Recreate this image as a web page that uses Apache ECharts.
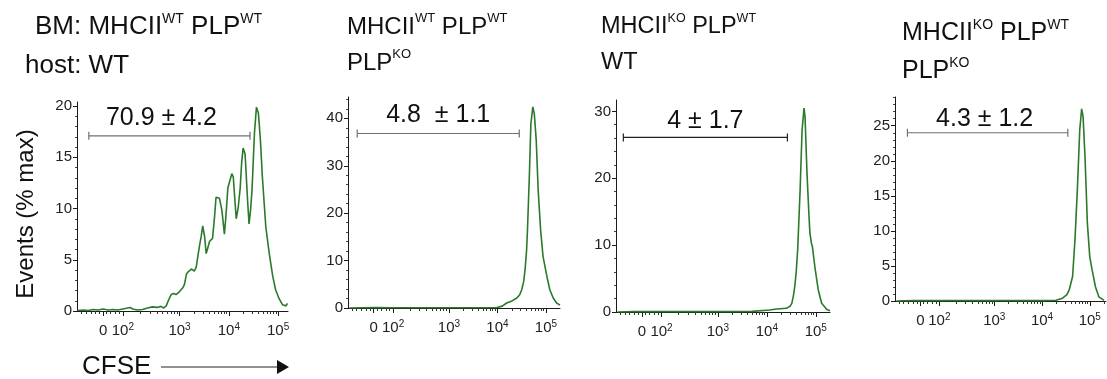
<!DOCTYPE html>
<html>
<head>
<meta charset="utf-8">
<script src="https://cdn.jsdelivr.net/npm/echarts@6/dist/echarts.min.js"></script>
<style>html,body{margin:0;padding:0;background:#fff}#c{width:1107px;height:379px}</style>
</head>
<body>
<div id="c"></div>
<script>
// ---------------- DATA ----------------
// x values are in display units of the biexponential CFSE axis (10^3 -> 3, 10^4 -> 4, 10^5 -> 5)
const xTickValues = [1.45, 1.85, 3, 4, 5];
const xTickLabels = ['0', '10^2', '10^3', '10^4', '10^5'];

const panelTitles = [
  ['BM: MHCII{s|WT} PLP{s|WT}', 'host: WT'],
  ['MHCII{s|WT} PLP{s|WT}', 'PLP{s|KO}'],
  ['MHCII{s|KO} PLP{s|WT}', 'WT'],
  ['MHCII{s|KO} PLP{s|WT}', 'PLP{s|KO}']
];

const p1YTicks = [0, 5, 10, 15, 20];
const p2YTicks = [0, 10, 20, 30, 40];
const p3YTicks = [0, 10, 20, 30];
const p4YTicks = [0, 5, 10, 15, 20, 25];

const p1Cfse = [0.93,1.05,1.15,1.25,1.35,1.45,1.55,1.65,1.75,1.85,1.95,2.0,2.05,2.15,2.25,2.35,2.45,2.55,2.62,2.68,2.73,2.78,2.83,2.88,2.93,3.0,3.03,3.07,3.10,3.14,3.17,3.20,3.24,3.27,3.30,3.34,3.37,3.41,3.44,3.47,3.51,3.54,3.57,3.61,3.64,3.67,3.71,3.74,3.78,3.81,3.86,3.91,3.94,3.98,4.02,4.06,4.09,4.12,4.15,4.19,4.23,4.26,4.29,4.33,4.38,4.41,4.44,4.47,4.52,4.56,4.60,4.64,4.68,4.75,4.82,4.89,4.95,5.02,5.09,5.16,5.19];
const p1Events = [0.05,0.1,0.05,0.15,0.1,0.2,0.1,0.15,0.1,0.2,0.3,0.35,0.2,0.1,0.15,0.3,0.4,0.35,0.45,0.3,0.5,1.1,1.6,1.7,1.6,1.9,2.0,2.3,2.6,3.6,3.8,3.8,4.1,4.0,3.9,4.3,5.3,6.5,7.3,8.3,7.2,5.6,6.1,6.8,6.9,7.1,9.2,11.1,11.2,11.0,9.8,7.5,9.2,12.0,12.1,13.4,13.1,11.0,9.0,10.1,12.0,14.5,15.9,15.3,10.8,8.5,9.8,11.8,17.4,19.9,19.3,16.7,13.1,8.2,5.6,3.4,2.05,1.2,0.6,0.5,0.75];

const p2Cfse = [0.95,1.2,1.5,1.8,2.2,2.6,3.0,3.4,3.8,3.99,4.1,4.19,4.30,4.40,4.46,4.50,4.54,4.57,4.60,4.62,4.66,4.69,4.73,4.76,4.80,4.84,4.89,4.94,5.02,5.08,5.15,5.22,5.29];
const p2Events = [0,0.05,0.1,0.05,0.05,0.05,0.05,0.05,0.05,0.1,0.4,1.05,1.5,2.1,2.8,3.85,5.5,8.1,12,16.5,28.4,38.9,42.4,41.0,35.4,24.9,16.5,10.9,6.65,3.85,2.1,1.05,0.6];

const p3Cfse = [0.95,1.3,1.7,2.1,2.5,2.9,3.3,3.7,4.06,4.2,4.40,4.48,4.51,4.54,4.57,4.60,4.63,4.68,4.72,4.76,4.78,4.82,4.86,4.88,4.91,4.93,4.98,5.05,5.12,5.22,5.29];
const p3Events = [0,0.05,0.05,0.05,0.05,0.05,0.05,0.1,0.3,0.45,0.55,0.9,1.3,2.3,3.8,6,9.3,18.3,27.2,30.5,29.2,20.8,14.5,11.8,10.3,9.8,6.8,3.3,1.3,0.4,0.2];

const p4Cfse = [0.95,1.3,1.7,2.1,2.5,2.9,3.3,3.7,4.1,4.29,4.43,4.52,4.57,4.64,4.69,4.74,4.79,4.83,4.86,4.90,4.95,5.00,5.05,5.12,5.19,5.30];
const p4Events = [0,0.05,0.05,0.05,0.05,0.05,0.05,0.05,0.05,0.1,0.4,0.9,1.6,3.5,8.7,15.9,24.4,27.4,26.3,20.6,11.1,6.3,4.4,2.0,0.6,0.1];

// gates: [start, end, level, label]
const gate1 = [1.16, 4.43, 17.1, '70.9 ± 4.2'];
const gate2 = [1.11, 4.45, 36.8, '4.8  ± 1.1'];
const gate3 = [1.07, 4.42, 26.1, '4 ± 1.7'];
const gate4 = [1.18, 4.54, 24.0, '4.3 ± 1.2'];

// ---------------- LAYOUT / STYLE ----------------
const FONT = 'Liberation Sans, Arial, Helvetica, sans-serif';
const GREEN = '#2b7a2b';
const AXIS = '#1a1a1a';

const panels = [
  {left: 77,  top: 102, width: 211, height: 209, xMax: 5.20, yMax: 20.4, yInt: 5,  yTicks: p1YTicks, x: p1Cfse, y: p1Events, gate: gate1, gateColor: '#707070', dx: -8, dy: -18, titleLeft: [35, 25],  titleBase: [36, 75], titleSize: 26, supSize: 14},
  {left: 348, top: 97,  width: 212, height: 211, xMax: 5.29, yMax: 44.5, yInt: 10, yTicks: p2YTicks, x: p2Cfse, y: p2Events, gate: gate2, gateColor: '#707070', dx: 0,  dy: -18, titleLeft: [347, 347], titleBase: [36, 72], titleSize: 24, supSize: 13},
  {left: 616, top: 100, width: 214, height: 212, xMax: 5.29, yMax: 31.7, yInt: 10, yTicks: p3YTicks, x: p3Cfse, y: p3Events, gate: gate3, gateColor: '#222222', dx: 0,  dy: -16, titleLeft: [601, 601], titleBase: [36, 72], titleSize: 23.5, supSize: 12.5},
  {left: 895, top: 97,  width: 211, height: 204, xMax: 5.34, yMax: 29.1, yInt: 5,  yTicks: p4YTicks, x: p4Cfse, y: p4Events, gate: gate4, gateColor: '#707070', dx: -3, dy: -14, titleLeft: [902, 902], titleBase: [42, 80], titleSize: 25, supSize: 14}
];
const X_MIN = 0.92;

function minorXTicks(xMax) {
  const v = [1.0, 1.1, 1.2, 1.3, 1.38, 1.52, 1.6, 1.7, 1.78];
  for (let k = 2; k <= 9; k++) v.push(1.85 + Math.log10(k) * 1.15);
  for (let n = 3; n <= 5; n++) for (let k = 2; k <= 9; k++) v.push(n + Math.log10(k));
  return v.filter(t => t > X_MIN && t < xMax);
}
function minorYTicks(p) {
  const v = [];
  const step = p.yInt / 5;
  for (let t = step; t < p.yMax; t += step) {
    const r = Math.round(t * 1000) / 1000;
    if (Math.abs(r / p.yInt - Math.round(r / p.yInt)) > 1e-6) v.push(r);
  }
  return v;
}
function xLabelRich(label) {
  const m = label.split('^');
  return m.length > 1 ? '{b|' + m[0] + '}{s|' + m[1] + '}' : '{b|' + m[0] + '}';
}

const grid = [], xAxis = [], yAxis = [], series = [], title = [];

panels.forEach((p, i) => {
  grid.push({left: p.left, top: p.top, width: p.width, height: p.height, containLabel: false, outerBoundsMode: 'none'});
  xAxis.push({
    type: 'value', gridIndex: i, min: X_MIN, max: p.xMax, position: 'bottom',
    axisLine: {show: true, onZero: false, lineStyle: {color: AXIS, width: 1}},
    axisTick: {show: true, length: 5, customValues: xTickValues, lineStyle: {color: AXIS}},
    axisLabel: {
      show: true, margin: 11, customValues: xTickValues, color: '#222',
      formatter: (val) => {
        const k = xTickValues.findIndex(v => Math.abs(v - val) < 1e-6);
        return k >= 0 ? xLabelRich(xTickLabels[k]) : '';
      },
      rich: {
        b: {fontFamily: FONT, fontSize: 15, lineHeight: 17, color: '#222'},
        s: {fontFamily: FONT, fontSize: 10, lineHeight: 10, verticalAlign: 'top', color: '#222'}
      }
    },
    splitLine: {show: false}
  });
  xAxis.push({
    type: 'value', gridIndex: i, min: X_MIN, max: p.xMax, position: 'bottom',
    axisLine: {show: false, onZero: false},
    axisTick: {show: true, length: 3, customValues: minorXTicks(p.xMax), lineStyle: {color: '#333'}},
    axisLabel: {show: false},
    splitLine: {show: false}
  });
  yAxis.push({
    type: 'value', gridIndex: i, min: 0, max: p.yMax, position: 'left',
    axisLine: {show: true, lineStyle: {color: AXIS, width: 1}},
    axisTick: {show: true, length: 4, customValues: p.yTicks, lineStyle: {color: AXIS}},
    axisLabel: {show: true, customValues: p.yTicks, margin: 5, color: '#222', fontFamily: FONT, fontSize: 15},
    splitLine: {show: false}
  });
  yAxis.push({
    type: 'value', gridIndex: i, min: 0, max: p.yMax, position: 'left',
    axisLine: {show: false},
    axisTick: {show: true, length: 2, customValues: minorYTicks(p), lineStyle: {color: '#444'}},
    axisLabel: {show: false},
    splitLine: {show: false}
  });
  series.push({
    type: 'line', xAxisIndex: 2 * i, yAxisIndex: 2 * i,
    data: p.x.map((u, k) => [u, p.y[k]]),
    showSymbol: false, symbol: 'none', smooth: false, silent: true,
    lineStyle: {color: GREEN, width: 1.6},
    clip: true, z: 3
  });
  series.push({
    type: 'custom', xAxisIndex: 2 * i, yAxisIndex: 2 * i, silent: true, z: 4,
    data: [p.gate],
    renderItem: (params, api) => {
      const a = api.coord([api.value(0), api.value(2)]);
      const b = api.coord([api.value(1), api.value(2)]);
      const st = {stroke: p.gateColor, lineWidth: 1.2};
      return {type: 'group', children: [
        {type: 'line', shape: {x1: a[0], y1: a[1], x2: b[0], y2: b[1]}, style: st},
        {type: 'line', shape: {x1: a[0], y1: a[1] - 4, x2: a[0], y2: a[1] + 4}, style: st},
        {type: 'line', shape: {x1: b[0], y1: b[1] - 4, x2: b[0], y2: b[1] + 4}, style: st},
        {type: 'text', style: {text: p.gate[3], x: (a[0] + b[0]) / 2 + p.dx, y: a[1] + p.dy,
          align: 'center', verticalAlign: 'middle', fill: '#111', font: '25px ' + FONT}}
      ]};
    }
  });
  panelTitles[i].forEach((t, j) => {
    title.push({
      text: t, left: p.titleLeft[j], top: p.titleBase[j] - 24, padding: 0,
      textStyle: {
        fontFamily: FONT, fontSize: p.titleSize, fontWeight: 'normal', color: '#111', lineHeight: 30,
        rich: {s: {fontFamily: FONT, fontSize: p.supSize, lineHeight: 29, verticalAlign: 'top', color: '#111'}}
      }
    });
  });
});

const option = {
  animation: false,
  backgroundColor: '#ffffff',
  title: title,
  grid: grid,
  xAxis: xAxis,
  yAxis: yAxis,
  series: series,
  graphic: [
    {type: 'text', x: 26, y: 214, rotation: Math.PI / 2,
     style: {text: 'Events (% max)', align: 'center', verticalAlign: 'middle', fill: '#111', font: '24px ' + FONT}},
    {type: 'text', x: 82, y: 367,
     style: {text: 'CFSE', align: 'left', verticalAlign: 'middle', fill: '#111', font: '26px ' + FONT}},
    {type: 'line', shape: {x1: 161, y1: 367, x2: 279, y2: 367}, style: {stroke: '#222', lineWidth: 1}},
    {type: 'polygon', shape: {points: [[277, 360], [289, 367], [277, 374]]}, style: {fill: '#111'}}
  ]
};

const chart = echarts.init(document.getElementById('c'), null, {renderer: 'canvas'});
chart.setOption(option);
</script>
</body>
</html>
